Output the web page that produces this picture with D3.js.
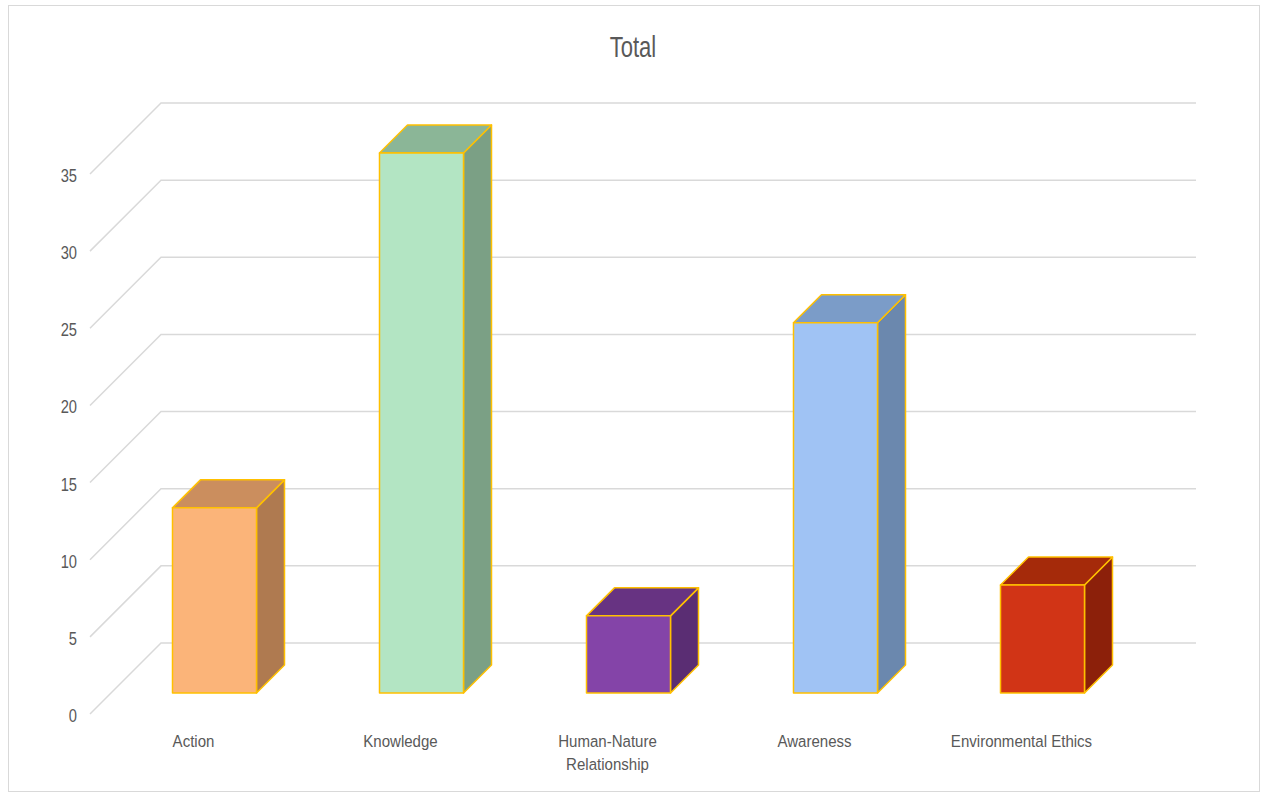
<!DOCTYPE html>
<html><head><meta charset="utf-8">
<script src="https://cdn.jsdelivr.net/npm/d3@7"></script>
<style>body{margin:0;background:#fff}svg{display:block}</style>
</head><body>
<svg id="c" width="1268" height="793"></svg>
<script>
const categories = ["Action","Knowledge","Human-Nature Relationship","Awareness","Environmental Ethics"];
const values = [12, 35, 5, 24, 7];
const tickValues = [0,5,10,15,20,25,30,35];
const frontColors = ["#FBB479","#B3E5C3","#8444A8","#A0C3F4","#D13416"];
const topColors   = ["#CB8E5E","#8BB697","#673382","#7B9CC8","#A52A0A"];
const sideColors  = ["#AF7A50","#7BA085","#5A2D73","#6B88AE","#8C200A"];

const svg = d3.select("#c");
const font = "'Liberation Sans', Arial, sans-serif";
const textCol = "#595959";

// border
svg.append("rect").attr("x",8.5).attr("y",5.5).attr("width",1251).attr("height",786)
  .attr("fill","#fff").attr("stroke","#d9d9d9").attr("stroke-width",1);

svg.append("text").attr("transform","translate(633,57) scale(0.76,1)").attr("text-anchor","middle")
  .attr("font-family",font).attr("font-size",29).attr("fill",textCol).text("Total");

const depth = 71;
const y0 = 714;
const y = d3.scaleLinear().domain([0,35]).range([y0, y0-540]);
const x = d3.scaleBand().domain(categories).range([90, 1125]).paddingInner(0).paddingOuter(0);
const bw = 84;
const dFront = 21, dBack = 49;
const P = (px, py, d) => [px + d, py - d];

// gridlines
const g = svg.append("g").attr("stroke","#d9d9d9").attr("stroke-width",1.5).attr("fill","none");
tickValues.forEach(t => {
  const a = [x.range()[0], y(t)];
  const b = P(a[0], a[1], depth);
  const c = [x.range()[1] + depth, b[1]];
  g.append("path").attr("d", d3.line()([a,b,c]));
});

// tick labels
svg.append("g").selectAll("text").data(tickValues).join("text")
  .attr("transform",t=>`translate(77,${y(t)+8}) scale(0.84,1)`).attr("text-anchor","end")
  .attr("font-family",font).attr("font-size",17.5).attr("fill",textCol).text(t=>t);

// bars
const line = d3.line();
const bars = svg.append("g").attr("stroke","#FFC000").attr("stroke-width",1.5).attr("stroke-linejoin","round");
categories.forEach((cat,i)=>{
  const cx = x(cat) + x.bandwidth()/2;
  const xl = cx - bw/2, xr = cx + bw/2;
  const yt = y(values[i]), yb = y(0);
  const front = [P(xl,yb,dFront), P(xr,yb,dFront), P(xr,yt,dFront), P(xl,yt,dFront)];
  const side = [P(xr,yb,dFront), P(xr,yb,dBack), P(xr,yt,dBack), P(xr,yt,dFront)];
  const top = [P(xl,yt,dFront), P(xr,yt,dFront), P(xr,yt,dBack), P(xl,yt,dBack)];
  bars.append("path").attr("d", line(side)+"Z").attr("fill",sideColors[i]);
  bars.append("path").attr("d", line(top)+"Z").attr("fill",topColors[i]);
  bars.append("path").attr("d", line(front)+"Z").attr("fill",frontColors[i]);
});

// category labels
const labelLines = {"Human-Nature Relationship":["Human-Nature","Relationship"]};
const lg = svg.append("g").attr("font-family",font).attr("font-size",17).attr("fill",textCol).attr("text-anchor","middle");
categories.forEach(cat=>{
  const cx = x(cat) + x.bandwidth()/2;
  const lines = labelLines[cat] || [cat];
  lines.forEach((l,j)=>lg.append("text")
    .attr("transform",`translate(${cx},${747 + j*23}) scale(0.885,1)`).text(l));
});
</script>
</body></html>
